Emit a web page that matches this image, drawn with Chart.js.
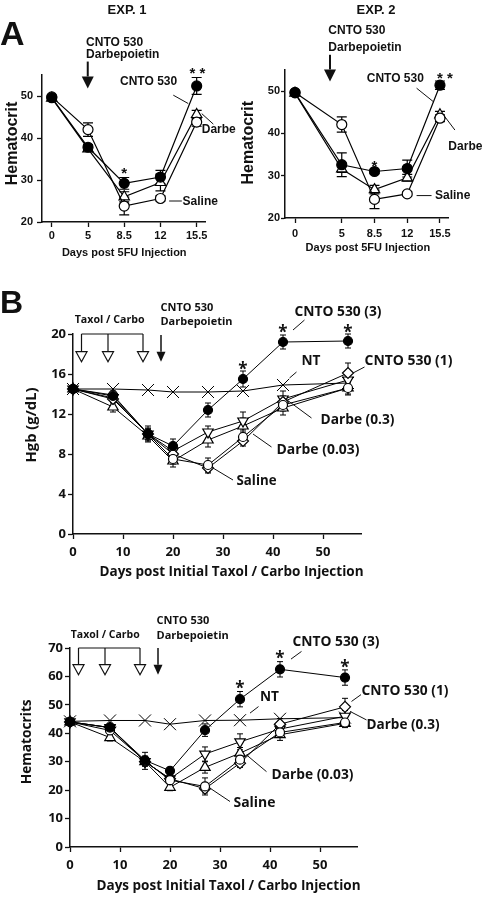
<!DOCTYPE html>
<html>
<head>
<meta charset="utf-8">
<script src="https://cdn.jsdelivr.net/npm/chart.js@4.4.1/dist/chart.umd.min.js"></script>
<style>
  body { margin: 0; width: 482px; height: 897px; background: #fff; position: relative; overflow: hidden;
         font-family: "Liberation Sans", Arial, sans-serif; color: #111; }
  .panel { position: absolute; }
  .tag { position: absolute; font-weight: bold; line-height: 1; white-space: nowrap; }
</style>
</head>
<body>
<div class="panel" style="left:0;top:0"><canvas id="exp1" width="241" height="262"></canvas></div>
<div class="panel" style="left:241px;top:0"><canvas id="exp2" width="241" height="262"></canvas></div>
<div class="panel" style="left:0;top:262px"><canvas id="hgb" width="482" height="320"></canvas></div>
<div class="panel" style="left:0;top:582px"><canvas id="hct" width="482" height="315"></canvas></div>

<div class="tag" style="left:0;top:16px;font-size:34px">A</div>
<div class="tag" style="left:0;top:286px;font-size:32px">B</div>
<div class="tag" style="left:87px;top:3px;width:80px;text-align:center;font-size:13px">EXP. 1</div>
<div class="tag" style="left:336px;top:3px;width:80px;text-align:center;font-size:13px">EXP. 2</div>

<script>
// ---- panel A: hematocrit after 5FU (Exp. 1 is plotted on evenly spaced days) ----
const exp1DayLabels = ["0", "5", "8.5", "12", "15.5"];
const exp1Pos = [0, 1, 2, 3, 4];
const exp1Cnto = [49.6, 37.8, 29.2, 30.7, 52.4];
const exp1CntoErr = [0, 0.6, 1.4, 1.6, 2.0];
const exp1Darbe = [49.5, 37.4, 26.0, 29.4, 45.6];
const exp1DarbeErr = [0, 0.6, 1.2, 2.0, 1.0];
const exp1Saline = [49.8, 42.0, 23.8, 25.6, 43.8];
const exp1SalineErr = [0, 1.6, 2.1, 0.6, 1.0];

const exp2Days = [0, 5, 8.5, 12, 15.5];
const exp2Cnto = [49.6, 32.6, 31.0, 31.7, 51.4];
const exp2CntoErr = [0, 2.8, 0.5, 2.0, 1.0];
const exp2Darbe = [49.5, 31.6, 26.7, 29.5, 44.4];
const exp2DarbeErr = [0, 0.8, 1.0, 0.8, 0.8];
const exp2Saline = [49.7, 42.1, 24.4, 25.7, 43.6];
const exp2SalineErr = [0, 1.8, 2.2, 0.5, 0.8];
const hctTicksA = [20, 30, 40, 50];

// ---- panel B: Taxol / Carbo model ----
const daysB = [0, 8, 15, 20, 27, 34, 42, 55];
const taxolDays = [1.7, 7, 14];
const drugDay = 17.6;
const dayTicksB = [0, 10, 20, 30, 40, 50];

const hgbCnto3 = [14.5, 13.8, 10.0, 8.8, 12.4, 15.5, 19.2, 19.3];
const hgbCnto3Err = [0.3, 0.3, 0.6, 0.7, 0.7, 0.8, 0.7, 0.7];
const hgbCnto1 = [14.5, 13.5, 10.0, 8.0, 6.6, 9.3, 13.2, 16.1];
const hgbCnto1Err = [0.3, 0.4, 0.5, 0.5, 0.5, 0.5, 0.6, 1.0];
const hgbNT = [14.5, 14.5, 14.4, 14.2, 14.2, 14.3, 14.9, 15.1];
const hgbDarbe03 = [14.5, 13.6, 10.0, 8.3, 10.2, 11.3, 13.5, 15.4];
const hgbDarbe03Err = [0.3, 0.4, 0.5, 0.6, 0.6, 0.9, 0.8, 0.8];
const hgbDarbe003 = [14.5, 12.7, 9.8, 7.3, 9.4, 10.8, 12.6, 14.6];
const hgbDarbe003Err = [0.3, 0.5, 0.5, 0.6, 0.7, 0.8, 0.7, 0.7];
const hgbSaline = [14.5, 13.9, 10.0, 7.5, 6.9, 9.7, 12.9, 14.6];
const hgbSalineErr = [0.3, 0.4, 0.8, 0.5, 0.7, 0.5, 0.6, 0.6];
const hgbTicks = [0, 4, 8, 12, 16, 20];

const hctCnto3 = [44.0, 42.0, 30.5, 26.8, 41.1, 52.0, 62.5, 59.6];
const hctCnto3Err = [1.0, 1.0, 1.5, 1.2, 2.2, 2.7, 2.7, 2.7];
const hctCnto1 = [44.0, 42.0, 30.0, 24.0, 20.5, 29.5, 43.2, 49.3];
const hctCnto1Err = [1.0, 1.0, 1.5, 1.2, 1.5, 1.5, 2.0, 3.0];
const hctNT = [44.2, 44.5, 44.5, 43.2, 44.5, 44.6, 45.1, 45.5];
const hctDarbe03 = [44.0, 42.0, 30.0, 24.0, 32.7, 37.0, 41.5, 46.0];
const hctDarbe03Err = [1.0, 1.0, 1.5, 1.2, 2.5, 2.8, 2.0, 2.0];
const hctDarbe003 = [44.0, 38.5, 30.0, 21.0, 28.0, 33.0, 39.5, 43.5];
const hctDarbe003Err = [1.0, 1.2, 1.5, 1.2, 2.0, 2.0, 2.0, 1.5];
const hctSaline = [44.0, 41.0, 30.3, 23.5, 21.3, 30.7, 40.3, 43.8];
const hctSalineErr = [1.0, 1.2, 3.0, 1.2, 3.0, 1.5, 1.5, 1.5];
const hctTicksB = [0, 10, 20, 30, 40, 50, 60, 70];

const FA = '"Liberation Sans", Arial, sans-serif';
const FB = '"Open Sans", "Liberation Sans", sans-serif';
const INK = "#111";

// error bars, drawn under the markers
const errorBars = {
  id: "errorBars",
  beforeDatasetsDraw(chart, args, opts) {
    const { ctx, scales: { x, y } } = chart;
    const c = opts.cap / 2;
    ctx.save();
    ctx.strokeStyle = "#000";
    ctx.lineWidth = opts.lineWidth;
    for (const ds of chart.data.datasets) {
      if (!ds.errors) continue;
      ds.data.forEach((p, i) => {
        const e = ds.errors[i];
        if (!e) return;
        const px = x.getPixelForValue(p.x);
        const top = y.getPixelForValue(p.y + e);
        const bot = y.getPixelForValue(p.y - e);
        ctx.beginPath();
        ctx.moveTo(px, top); ctx.lineTo(px, bot);
        ctx.moveTo(px - c, top); ctx.lineTo(px + c, top);
        ctx.moveTo(px - c, bot); ctx.lineTo(px + c, bot);
        ctx.stroke();
      });
    }
    ctx.restore();
  }
};

// labels, leader lines, arrows and axis titles, placed in data units
const notes = {
  id: "notes",
  afterDraw(chart, args, opts) {
    const { ctx, scales: { x, y } } = chart;
    const X = v => x.getPixelForValue(v), Y = v => y.getPixelForValue(v);
    ctx.save();
    ctx.fillStyle = INK;
    ctx.strokeStyle = INK;
    ctx.textBaseline = "middle";
    for (const t of opts.texts) {
      ctx.font = t.font || opts.font;
      ctx.textAlign = t.align || "left";
      ctx.save();
      ctx.translate(X(t.x), Y(t.y));
      if (t.rot) ctx.rotate(-Math.PI / 2);
      if (t.w) ctx.fillText(t.text, 0, 0, t.w); else ctx.fillText(t.text, 0, 0);
      ctx.restore();
    }
    ctx.lineWidth = 1;
    ctx.beginPath();
    for (const [x1, y1, x2, y2] of opts.leaders) {
      ctx.moveTo(X(x1), Y(y1)); ctx.lineTo(X(x2), Y(y2));
    }
    ctx.stroke();

    const arrow = (d, from, to, a) => {
      const px = X(d), y1 = Y(from), tip = Y(to);
      ctx.lineWidth = a.lw;
      ctx.beginPath();
      ctx.moveTo(px, y1); ctx.lineTo(px, tip - a.h);
      ctx.stroke();
      ctx.beginPath();
      ctx.moveTo(px - a.w / 2, tip - a.h);
      ctx.lineTo(px + a.w / 2, tip - a.h);
      ctx.lineTo(px, tip);
      ctx.closePath();
      if (a.filled) { ctx.fill(); }
      else { ctx.fillStyle = "#fff"; ctx.fill(); ctx.lineWidth = 1.2; ctx.stroke(); ctx.fillStyle = INK; }
    };
    if (opts.bracket) {
      const b = opts.bracket;
      ctx.lineWidth = 1.2;
      ctx.beginPath();
      ctx.moveTo(X(b.days[0]), Y(b.top));
      ctx.lineTo(X(b.days[b.days.length - 1]), Y(b.top));
      ctx.stroke();
      for (const d of b.days) arrow(d, b.top, b.tip, { w: 11, h: 10, lw: 1.2, filled: false });
    }
    for (const a of opts.arrows) arrow(a.x, a.from, a.to, a);
    ctx.restore();
  }
};

function series(xs, ys, errs, style) {
  return Object.assign({
    data: xs.map((x, i) => ({ x, y: ys[i] })),
    errors: errs,
    borderColor: "#000",
    borderWidth: 1,
    pointBorderColor: "#000",
    pointBorderWidth: 1.2,
    pointBackgroundColor: "#fff",
    tension: 0,
    clip: false
  }, style);
}

function axis(o) {
  return {
    type: "linear",
    min: o.min,
    max: o.max,
    afterBuildTicks: s => { s.ticks = o.ticks.map(v => ({ value: v })); },
    afterFit: s => { if (o.width) s.width = o.width; if (o.height) s.height = o.height; },
    ticks: { callback: o.label || (v => String(v)), font: o.font, color: INK, padding: o.pad,
             autoSkip: false, maxRotation: 0 },
    grid: { drawOnChartArea: false, drawTicks: true, tickLength: o.tl || 5, tickWidth: 1.3, tickColor: INK },
    border: { display: true, color: INK, width: 1.5 }
  };
}

function makeChart(id, datasets, scales, padding, notesOpts, errOpts) {
  return new Chart(document.getElementById(id), {
    type: "line",
    data: { datasets },
    options: {
      responsive: false, animation: false, devicePixelRatio: 1, events: [],
      layout: { padding },
      plugins: { legend: { display: false }, tooltip: { enabled: false },
                 errorBars: errOpts, notes: notesOpts },
      scales
    },
    plugins: [errorBars, notes]
  });
}

const filled = r => ({ pointStyle: "circle", pointRadius: r, pointBackgroundColor: "#000" });
const ring = r => ({ pointStyle: "circle", pointRadius: r });
const tri = r => ({ pointStyle: "triangle", pointRadius: r });
const triDown = r => ({ pointStyle: "triangle", pointRotation: 180, pointRadius: r });
const diamond = r => ({ pointStyle: "rectRot", pointRadius: r });
const cross = r => ({ pointStyle: "crossRot", pointRadius: r, pointBorderWidth: 1 });

const tickA = { size: 11, weight: "bold", family: FA };
const tickB = { size: 13, weight: "bold", family: FB };
const starB = "bold 17px " + FB;

// Exp. 1
makeChart("exp1", [
  series(exp1Pos, exp1Cnto, exp1CntoErr, Object.assign(filled(5), { borderWidth: 1.2 })),
  series(exp1Pos, exp1Saline, exp1SalineErr, Object.assign(ring(5), { borderWidth: 1.2 })),
  series(exp1Pos, exp1Darbe, exp1DarbeErr, Object.assign(tri(6), { borderWidth: 1.2 }))
], {
  x: axis({ min: -0.27, max: 4.23, ticks: exp1Pos, label: v => exp1DayLabels[v], font: tickA, pad: 2, height: 40 }),
  y: axis({ min: 20, max: 55, ticks: hctTicksA, font: tickA, pad: 4, width: 42 })
}, { top: 75, right: 36, left: 0, bottom: 0 }, {
  font: "bold 12px " + FA,
  texts: [
    { text: "CNTO 530", x: 0.946, y: 62.8 },
    { text: "Darbepoietin", x: 0.946, y: 59.8 },
    { text: "CNTO 530", x: 1.884, y: 53.4 },
    { text: "* *", x: 4.02, y: 55.3, align: "center", font: "bold 15px " + FA },
    { text: "*", x: 2, y: 31.4, align: "center", font: "bold 15px " + FA },
    { text: "Darbe", x: 4.14, y: 42.0 },
    { text: "Saline", x: 3.61, y: 24.9 },
    { text: "Hematocrit", x: -1.07, y: 38.7, rot: true, align: "center", font: "bold 16px " + FA },
    { text: "Days post 5FU Injection", x: 2.0, y: 12.6, align: "center", font: "bold 11px " + FA }
  ],
  leaders: [[3.354, 50.2, 3.768, 48.2], [4.14, 45.8, 4.46, 43.3], [3.24, 25.0, 3.59, 25.0]],
  arrows: [{ x: 0.993, from: 58.2, to: 51.8, w: 12, h: 12, lw: 2, filled: true }]
}, { cap: 10, lineWidth: 1.2 });

// Exp. 2
makeChart("exp2", [
  series(exp2Days, exp2Cnto, exp2CntoErr, Object.assign(filled(5), { borderWidth: 1.2 })),
  series(exp2Days, exp2Saline, exp2SalineErr, Object.assign(ring(5), { borderWidth: 1.2 })),
  series(exp2Days, exp2Darbe, exp2DarbeErr, Object.assign(tri(6), { borderWidth: 1.2 }))
], {
  x: axis({ min: -1.07, max: 16.36, ticks: exp2Days, font: tickA, pad: 4, height: 44 }),
  y: axis({ min: 20, max: 55, ticks: hctTicksA, font: tickA, pad: 1, width: 44, tl: 4 })
}, { top: 70, right: 34, left: 0, bottom: 0 }, {
  font: "bold 12px " + FA,
  texts: [
    { text: "CNTO 530", x: 3.56, y: 64.2 },
    { text: "Darbepoietin", x: 3.56, y: 60.3 },
    { text: "CNTO 530", x: 7.67, y: 52.9 },
    { text: "* *", x: 16.04, y: 53.0, align: "center", font: "bold 15px " + FA },
    { text: "*", x: 8.5, y: 32.1, align: "center", font: "bold 15px " + FA },
    { text: "Darbe", x: 16.4, y: 36.9 },
    { text: "Saline", x: 14.97, y: 25.3 },
    { text: "Hematocrit", x: -5.0, y: 37.8, rot: true, align: "center", font: "bold 16px " + FA },
    { text: "Days post 5FU Injection", x: 7.8, y: 13.0, align: "center", font: "bold 11px " + FA }
  ],
  leaders: [[13.0, 50.7, 14.8, 47.5], [16.04, 43.9, 17.1, 40.8], [13.0, 25.3, 14.6, 25.3]],
  arrows: [{ x: 3.74, from: 58.6, to: 52.3, w: 12, h: 12, lw: 2, filled: true }]
}, { cap: 10, lineWidth: 1.2 });

// Hgb
makeChart("hgb", [
  series(daysB, hgbCnto3, hgbCnto3Err, filled(4.5)),
  series(daysB, hgbSaline, hgbSalineErr, ring(4.5)),
  series(daysB, hgbCnto1, hgbCnto1Err, diamond(5.5)),
  series(daysB, hgbDarbe03, hgbDarbe03Err, triDown(6)),
  series(daysB, hgbDarbe003, hgbDarbe003Err, tri(6)),
  series(daysB, hgbNT, null, cross(8.5))
], {
  x: axis({ min: 0, max: 57.6, ticks: dayTicksB, font: tickB, pad: 5, height: 48 }),
  y: axis({ min: 0, max: 20, ticks: hgbTicks, font: tickB, pad: 2, width: 73 })
}, { top: 72, right: 121, left: 0, bottom: 0 }, {
  font: "bold 14px " + FB,
  texts: [
    { text: "Taxol / Carbo", x: 0.34, y: 21.4, font: "bold 11px " + FB, w: 70 },
    { text: "CNTO 530", x: 17.5, y: 22.6, font: "bold 11px " + FB, w: 54 },
    { text: "Darbepoietin", x: 17.5, y: 21.2, font: "bold 11px " + FB, w: 72 },
    { text: "CNTO 530 (3)", x: 44.3, y: 22.2, w: 87 },
    { text: "NT", x: 45.7, y: 17.3, w: 19 },
    { text: "CNTO 530 (1)", x: 58.3, y: 17.3, w: 88 },
    { text: "Darbe (0.3)", x: 49.5, y: 11.4, w: 74 },
    { text: "Darbe (0.03)", x: 40.7, y: 8.4, w: 83 },
    { text: "Saline", x: 32.7, y: 5.3, w: 40 },
    { text: "*", x: 34, y: 16.4, align: "center", font: starB },
    { text: "*", x: 42, y: 20.1, align: "center", font: starB },
    { text: "*", x: 55, y: 20.1, align: "center", font: starB },
    { text: "Hgb (g/dL)", x: -8.3, y: 10.9, rot: true, align: "center", font: "bold 15px " + FB, w: 75 },
    { text: "Days post Initial Taxol / Carbo Injection", x: 31.7, y: -3.8, align: "center", w: 264 }
  ],
  leaders: [[46.3, 21.4, 44.0, 20.4], [44.7, 16.2, 43.3, 15.6], [58.3, 16.7, 56, 16.1],
            [47.7, 11.6, 42, 13.7], [39.7, 8.7, 36, 10.0], [32, 5.4, 28, 6.6]],
  bracket: { days: taxolDays, top: 20, tip: 17.23 },
  arrows: [{ x: drugDay, from: 19.9, to: 17.23, w: 9, h: 10, lw: 1.5, filled: true }]
}, { cap: 6, lineWidth: 1 });

// Hematocrits
makeChart("hct", [
  series(daysB, hctCnto3, hctCnto3Err, filled(4.5)),
  series(daysB, hctSaline, hctSalineErr, ring(4.5)),
  series(daysB, hctCnto1, hctCnto1Err, diamond(5.5)),
  series(daysB, hctDarbe03, hctDarbe03Err, triDown(6)),
  series(daysB, hctDarbe003, hctDarbe003Err, tri(6)),
  series(daysB, hctNT, null, cross(8.5))
], {
  x: axis({ min: 0, max: 57.4, ticks: dayTicksB, font: tickB, pad: 5, height: 50 }),
  y: axis({ min: 0, max: 70, ticks: hctTicksB, font: tickB, pad: 2, width: 70 })
}, { top: 66, right: 125, left: 0, bottom: 0 }, {
  font: "bold 14px " + FB,
  texts: [
    { text: "Taxol / Carbo", x: 0.14, y: 74.7, font: "bold 11px " + FB, w: 69 },
    { text: "CNTO 530", x: 17.3, y: 79.6, font: "bold 11px " + FB, w: 55 },
    { text: "Darbepoietin", x: 17.3, y: 74.1, font: "bold 11px " + FB, w: 73 },
    { text: "CNTO 530 (3)", x: 44.5, y: 72.0, w: 87 },
    { text: "NT", x: 38, y: 52.6, w: 19 },
    { text: "CNTO 530 (1)", x: 58.3, y: 55.0, w: 87 },
    { text: "Darbe (0.3)", x: 59.3, y: 43.0, w: 73 },
    { text: "Darbe (0.03)", x: 40.3, y: 25.4, w: 82 },
    { text: "Saline", x: 32.7, y: 15.6, w: 42 },
    { text: "*", x: 34, y: 55.4, align: "center", font: starB },
    { text: "*", x: 42, y: 66.2, align: "center", font: starB },
    { text: "*", x: 55, y: 62.8, align: "center", font: starB },
    { text: "Hematocrits", x: -8.6, y: 37, rot: true, align: "center", font: "bold 15px " + FB, w: 85 },
    { text: "Days post Initial Taxol / Carbo Injection", x: 31.7, y: -13.6, align: "center", w: 264 }
  ],
  leaders: [[46.3, 68.8, 44.2, 66.1], [37.7, 49.4, 36, 47.1], [58.2, 53.6, 56.3, 51.2],
            [59.3, 44.7, 56, 47.7], [39.3, 26.5, 35.3, 32.4], [32, 16, 28, 20.7]],
  bracket: { days: taxolDays, top: 70, tip: 60.6 },
  arrows: [{ x: drugDay, from: 70, to: 60.6, w: 9, h: 10, lw: 1.5, filled: true }]
}, { cap: 6, lineWidth: 1 });
</script>
</body>
</html>
